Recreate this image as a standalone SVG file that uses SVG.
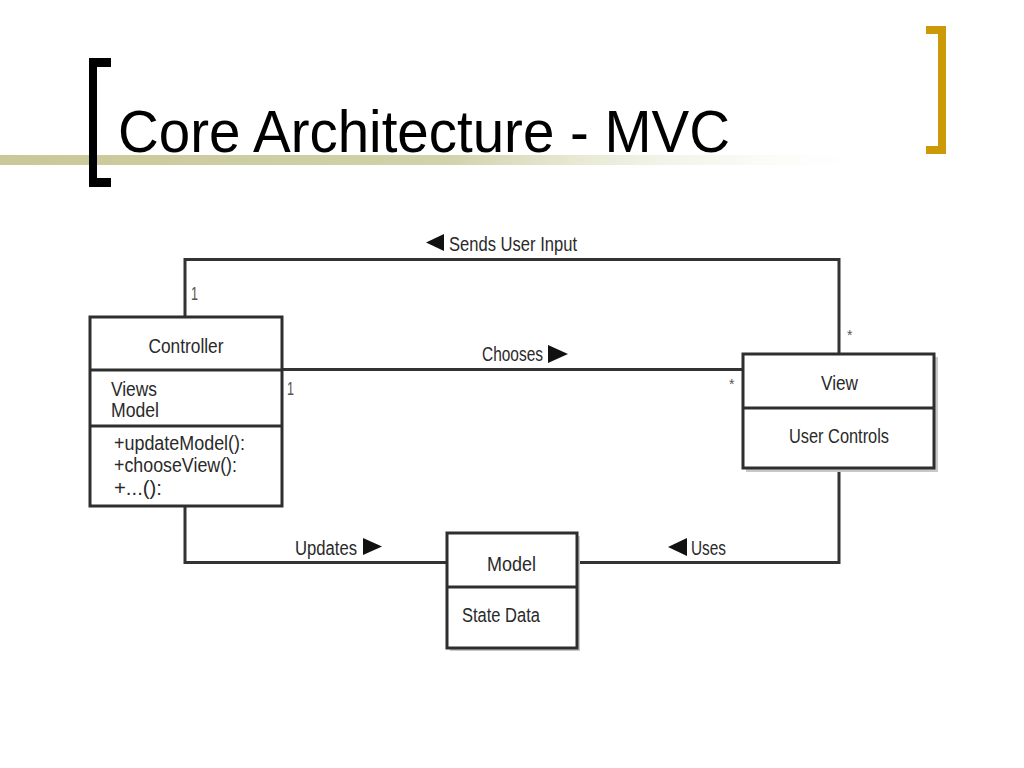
<svg xmlns="http://www.w3.org/2000/svg" width="1024" height="768" viewBox="0 0 1024 768">
  <defs>
    <linearGradient id="bar" x1="0" y1="0" x2="1" y2="0">
      <stop offset="0" stop-color="#c8c898"/>
      <stop offset="0.5" stop-color="#d2d2ab"/>
      <stop offset="1" stop-color="#ffffff" stop-opacity="0"/>
    </linearGradient>
    <style>
      .title { font-family: "Liberation Sans", Arial, sans-serif; font-size: 60px; fill: #000; }
      .lbl { font-family: "Liberation Sans Narrow", "Liberation Sans", Arial, sans-serif; font-size: 20px; fill: #2a2a2a; }
      .mult { font-family: "Liberation Sans Narrow", "Liberation Sans", Arial, sans-serif; font-size: 18px; fill: #555; }
      .star { font-family: "Liberation Sans", Arial, sans-serif; font-size: 14px; fill: #555; }
      .box { fill: #fff; stroke: #2e2e2e; stroke-width: 3; }
      .shadow { fill: #c8c8c8; }
      .div { stroke: #2e2e2e; stroke-width: 3; }
      .conn { fill: none; stroke: #333; stroke-width: 3; }
      .tri { fill: #111; }
    </style>
  </defs>

  <rect x="0" y="0" width="1024" height="768" fill="#fff"/>

  <g id="title">
    <rect x="0" y="155" width="900" height="10" fill="url(#bar)"/>
    <path d="M89 58 H111 V67 H97 V178 H111 V187 H89 Z" fill="#000"/>
    <path d="M926 26 H946 V154 H926 V146 H938 V34 H926 Z" fill="#cc9a06"/>
    <text class="title" x="118" y="152" textLength="612" lengthAdjust="spacingAndGlyphs">Core Architecture - MVC</text>
  </g>

  <g id="connectors">
    <polyline class="conn" points="185,316 185,259.5 839,259.5 839,354"/>
    <line class="conn" x1="282" y1="369.5" x2="743" y2="369.5"/>
    <polyline class="conn" points="185,506 185,562.5 447,562.5"/>
    <polyline class="conn" points="839,468 839,562.5 577,562.5"/>
    <text class="mult" x="191" y="300" textLength="7" lengthAdjust="spacingAndGlyphs">1</text>
    <text class="mult" x="287" y="395" textLength="7" lengthAdjust="spacingAndGlyphs">1</text>
    <text class="star" x="847" y="340">*</text>
    <text class="star" x="729" y="389">*</text>
    <path class="tri" d="M426 242.5 L444 234 L444 251 Z"/>
    <text class="lbl" x="449" y="251" textLength="128" lengthAdjust="spacingAndGlyphs">Sends User Input</text>
    <text class="lbl" x="482" y="361" textLength="61" lengthAdjust="spacingAndGlyphs">Chooses</text>
    <path class="tri" d="M568 354 L548 345 L548 363 Z"/>
    <text class="lbl" x="295" y="555" textLength="62" lengthAdjust="spacingAndGlyphs">Updates</text>
    <path class="tri" d="M382 546.5 L363 538 L363 555 Z"/>
    <path class="tri" d="M668 547 L687 538 L687 556 Z"/>
    <text class="lbl" x="691" y="555" textLength="35" lengthAdjust="spacingAndGlyphs">Uses</text>
  </g>

  <g id="controller">
    <rect class="box" x="90" y="317" width="192" height="189"/>
    <line class="div" x1="90" y1="370" x2="282" y2="370" stroke-width="4"/>
    <line class="div" x1="90" y1="426" x2="282" y2="426" stroke-width="2.5"/>
    <text class="lbl" x="186" y="353" text-anchor="middle" textLength="75" lengthAdjust="spacingAndGlyphs">Controller</text>
    <text class="lbl" x="111" y="396" textLength="46" lengthAdjust="spacingAndGlyphs">Views</text>
    <text class="lbl" x="111" y="417" textLength="48" lengthAdjust="spacingAndGlyphs">Model</text>
    <text class="lbl" x="114" y="450" textLength="131" lengthAdjust="spacingAndGlyphs">+updateModel():</text>
    <text class="lbl" x="114" y="472" textLength="123" lengthAdjust="spacingAndGlyphs">+chooseView():</text>
    <text class="lbl" x="114" y="495" textLength="48" lengthAdjust="spacingAndGlyphs">+...():</text>
  </g>

  <g id="view">
    <rect class="shadow" x="746" y="357" width="192" height="115"/>
    <rect class="box" x="743" y="354" width="191" height="114"/>
    <line class="div" x1="743" y1="408" x2="934" y2="408"/>
    <text class="lbl" x="839.5" y="390" text-anchor="middle" textLength="37" lengthAdjust="spacingAndGlyphs">View</text>
    <text class="lbl" x="839" y="443" text-anchor="middle" textLength="100" lengthAdjust="spacingAndGlyphs">User Controls</text>
  </g>

  <g id="model">
    <rect class="shadow" x="450" y="536" width="130" height="115"/>
    <rect class="box" x="447" y="533" width="130" height="115"/>
    <line class="div" x1="447" y1="587" x2="577" y2="587" stroke-width="3.5"/>
    <text class="lbl" x="511.5" y="571" text-anchor="middle" textLength="49" lengthAdjust="spacingAndGlyphs">Model</text>
    <text class="lbl" x="462" y="622" textLength="78" lengthAdjust="spacingAndGlyphs">State Data</text>
  </g>
</svg>
